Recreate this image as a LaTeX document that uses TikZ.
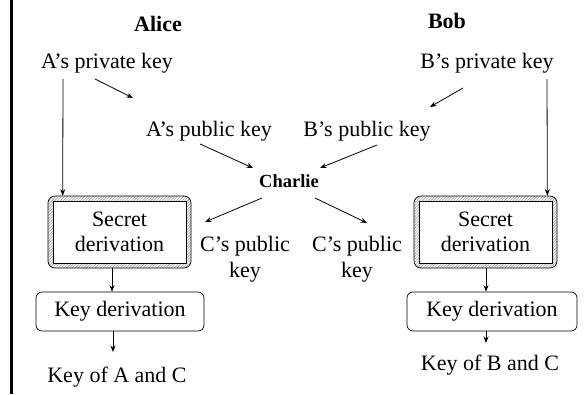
\documentclass[tikz,border=0pt]{standalone}
\usepackage{fontspec}
\setmainfont{Liberation Serif}
\usetikzlibrary{arrows.meta,patterns.meta}

\tikzset{
  lbl/.style={inner sep=0pt, align=center, font=\fontsize{22}{26}\selectfont},
  who/.style={inner sep=0pt, font=\fontsize{22}{26}\selectfont\bfseries},
  eve/.style={inner sep=0pt, font=\fontsize{18.5}{22}\selectfont\bfseries},
  secbox/.style={draw, line width=0.7pt, rounded corners=7pt, minimum width=143pt, minimum height=72pt,
    pattern={Lines[angle=45,distance=2pt,line width=0.6pt]}, pattern color=gray!75},
  secinner/.style={draw, line width=0.9pt, fill=white, minimum width=133pt, minimum height=62pt,
    inner sep=0pt, align=center, font=\fontsize{22}{25}\selectfont},
  kdbox/.style={draw, line width=0.7pt, rounded corners=6pt, minimum height=39pt, inner sep=0pt,
    font=\fontsize{22}{26}\selectfont},
  arr/.style={-{Stealth[length=6.5pt,width=5pt]}, line width=0.8pt},
}

\begin{document}
\begin{tikzpicture}[x=1pt,y=-1pt]
  \useasboundingbox (0,0) rectangle (588,394);

  % left margin rule
  \draw[line width=2.4pt] (11.3,0) -- (11.3,394);

  % parties
  \node[who] (alice) at (158,24) {Alice};
  \node[who] (bob)   at (447,21) {Bob};
  \node[eve] (charlie) at (289,181) {Charlie};

  % keys
  \node[lbl] (apriv) at (107,63)  {A’s private key};
  \node[lbl] (bpriv) at (487,63)  {B’s private key};
  \node[lbl] (apub)  at (209,131) {A’s public key};
  \node[lbl] (bpub)  at (367,131) {B’s public key};
  \node[lbl] (cpubL) at (245,259) {C’s public\\key};
  \node[lbl] (cpubR) at (357,259) {C’s public\\key};

  % secret derivation boxes
  \node[secbox] (secL) at (119.5,232) {};
  \node[secinner] (secLin) at (secL) {Secret\\derivation};
  \node[secbox] (secR) at (485.5,232) {};
  \node[secinner] (secRin) at (secR) {Secret\\derivation};

  % key derivation boxes
  \node[kdbox, minimum width=168pt] (kdL) at (120,311.5) {Key derivation};
  \node[kdbox, minimum width=170pt] (kdR) at (492,311.5) {Key derivation};

  % outputs
  \node[lbl] (outL) at (117,377) {Key of A and C};
  \node[lbl] (outR) at (490,365) {Key of B and C};

  % private keys into secret derivation
  \draw[arr] ([shift={(-44,16)}]apriv.center) -- ([shift={(15,0)}]secL.north west);
  \draw[arr] ([shift={(60,16)}]bpriv.center) -- ([shift={(-10,0)}]secR.north east);

  % private to public
  \draw[arr] ([shift={(-12,16)}]apriv.center) -- ([shift={(-76,-33)}]apub.center);
  \draw[arr] ([shift={(-24,25)}]bpriv.center) -- ([shift={(63,-24)}]bpub.center);

  % public keys intercepted by Charlie
  \draw[arr] ([shift={(-9,13)}]apub.center) -- ([shift={(-36,-13)}]charlie.center);
  \draw[arr] ([shift={(10,14)}]bpub.center) -- ([shift={(31,-13)}]charlie.center);

  % Charlie hands out his own public key
  \draw[arr] ([shift={(-27,17)}]charlie.center) -- ([shift={(-40,-37)}]cpubL.center);
  \draw[arr] ([shift={(26,17)}]charlie.center) -- ([shift={(10,-36)}]cpubR.center);

  % derivation chain
  \draw[arr] ([shift={(-7.5,0)}]secL.south) -- ([shift={(-8,0)}]kdL.north);
  \draw[arr] ([shift={(-7,0)}]kdL.south) -- ([shift={(-4,-25)}]outL.center);
  \draw[arr] ([shift={(0.5,0)}]secR.south) -- ([shift={(-6,0)}]kdR.north);
  \draw[arr] ([shift={(-6,0)}]kdR.south) -- ([shift={(-4,-22)}]outR.center);
\end{tikzpicture}
\end{document}
